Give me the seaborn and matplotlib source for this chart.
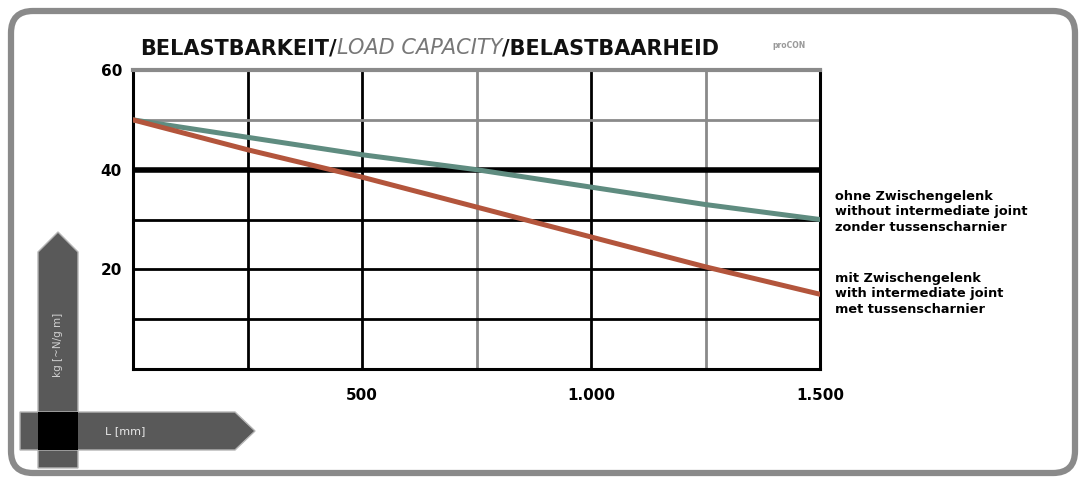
import numpy as np
import pandas as pd
import seaborn as sns
import matplotlib.pyplot as plt
from matplotlib.patches import FancyBboxPatch, Polygon, Rectangle

# data
length_mm = [0, 250, 500, 750, 1000, 1250, 1500]
load_without_joint = [50, 46.5, 43, 40, 36.5, 33, 30]
load_with_joint = [50, 44, 38.5, 32.5, 26.5, 20.5, 15]

x_ticks = [500, 1000, 1500]
x_ticklabels = ['500', '1.000', '1.500']
y_ticks = [20, 40, 60]
y_ticklabels = ['20', '40', '60']

v_grid = [250, 500, 750, 1000, 1250]
v_grid_col = ['black', 'black', '#8a8a8a', 'black', '#8a8a8a']
h_grid = [10, 20, 30, 40, 50]
h_grid_col = ['black', 'black', 'black', 'black', '#8a8a8a']
h_grid_lw = [2.0, 2.0, 2.0, 4.0, 2.0]

label_without = 'ohne Zwischengelenk\nwithout intermediate joint\nzonder tussenscharnier'
label_with = 'mit Zwischengelenk\nwith intermediate joint\nmet tussenscharnier'

df = pd.DataFrame({
    'L': length_mm * 2,
    'kg': load_without_joint + load_with_joint,
    'serie': ['ohne'] * len(length_mm) + ['mit'] * len(length_mm),
})

sns.set_style('white')
plt.rcParams['font.family'] = ['DejaVu Sans']

fig = plt.figure(figsize=(10.84, 4.82), dpi=100)
ax = fig.add_axes([133 / 1084, 1 - 369 / 482, (820 - 133) / 1084, (369 - 70) / 482])

for xv, c in zip(v_grid, v_grid_col):
    ax.axvline(xv, color=c, lw=2.0, zorder=1)
for yv, c, lw in zip(h_grid, h_grid_col, h_grid_lw):
    ax.axhline(yv, color=c, lw=lw, zorder=1)

sns.lineplot(data=df, x='L', y='kg', hue='serie',
             palette={'ohne': '#5f8c80', 'mit': '#b3553c'},
             linewidth=3.6, legend=False, ax=ax, zorder=3)

ax.set_xlim(0, 1500)
ax.set_ylim(0, 60)
ax.set_xticks(x_ticks)
ax.set_xticklabels(x_ticklabels, fontsize=11, fontweight='bold', color='black')
ax.set_yticks(y_ticks)
ax.set_yticklabels(y_ticklabels, fontsize=11, fontweight='bold', color='black')
ax.tick_params(axis='x', length=0, pad=14)
ax.tick_params(axis='y', length=0, pad=8)
ax.set_xlabel('')
ax.set_ylabel('')

for side in ['left', 'right', 'bottom']:
    ax.spines[side].set_color('black')
    ax.spines[side].set_linewidth(2.2)
ax.spines['top'].set_color('#8a8a8a')
ax.spines['top'].set_linewidth(3.0)

# title in three parts
t1 = fig.text(140 / 1084, 1 - 48 / 482, 'BELASTBARKEIT/', fontsize=15,
              fontweight='bold', color='#111111', va='center')
t2 = ax.annotate('LOAD CAPACITY', xy=(1, 0), xycoords=t1, va='bottom',
                 fontsize=15, fontstyle='italic', color='#777777')
ax.annotate('/BELASTBAARHEID', xy=(1, 0), xycoords=t2, va='bottom',
            fontsize=15, fontweight='bold', color='#111111')
fig.text(772 / 1084, 1 - 46 / 482, 'proCON', fontsize=5.5, color='#999999',
         va='center', fontweight='bold')

# side labels
fig.text(835 / 1084, 1 - 212 / 482, label_without, fontsize=9.3, color='black',
         fontweight='bold', va='center', linespacing=1.25)
fig.text(835 / 1084, 1 - 294 / 482, label_with, fontsize=9.3, color='black',
         fontweight='bold', va='center', linespacing=1.25)

# outer frame
frame = FancyBboxPatch((11, 9), 1064, 462, boxstyle='round,pad=0,rounding_size=22',
                       transform=None, fill=False, edgecolor='#8a8a8a', lw=4.5)
fig.patches.append(frame)

# axis arrows
H = 482
v_arrow = Polygon([(38, H - 468), (78, H - 468), (78, H - 252), (58, H - 232), (38, H - 252)],
                  closed=True, transform=None, facecolor='#595959', edgecolor='#b5b5b5', lw=1)
h_arrow = Polygon([(20, H - 412), (235, H - 412), (255, H - 431), (235, H - 450), (20, H - 450)],
                  closed=True, transform=None, facecolor='#595959', edgecolor='#b5b5b5', lw=1)
cross = Rectangle((38, H - 450), 40, 38, transform=None, facecolor='black', edgecolor='none')
fig.patches.extend([v_arrow, h_arrow, cross])
fig.text(105 / 1084, 1 - 431 / 482, 'L [mm]', fontsize=8, color='#e8e8e8', va='center')
fig.text(58 / 1084, 1 - 345 / 482, 'kg [~N/g m]', fontsize=7.5, color='#d0d0d0',
         rotation=90, ha='center', va='center')

fig.savefig('out.png', dpi=100)
